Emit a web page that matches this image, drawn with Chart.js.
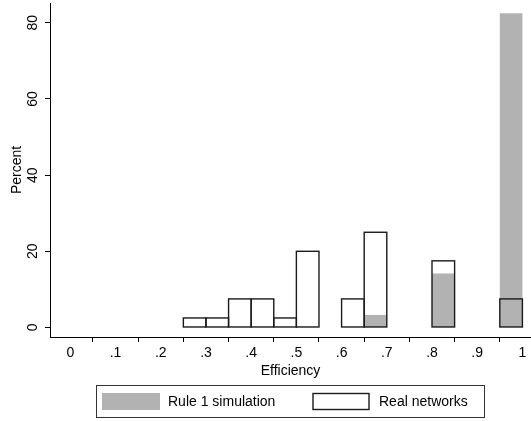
<!DOCTYPE html>
<html>
<head>
<meta charset="utf-8">
<script src="https://cdn.jsdelivr.net/npm/chart.js@4"></script>
<style>
  body { margin: 0; background: #fff; }
  canvas { display: block; }
</style>
</head>
<body>
<canvas id="histChart" width="531" height="421"></canvas>
<script>
// histogram bins, width .05, start of each bin
let binStarts = [0, .05, .1, .15, .2, .25, .3, .35, .4, .45, .5, .55, .6, .65, .7, .75, .8, .85, .9, .95]
let binWidth = .05
// percent per bin, null = empty bin
let simPercent = [null, null, null, null, null, null, null, null, null, null, null, null, null, 3.3, null, null, 14.2, null, null, 82.5]
let realPercent = [null, null, null, null, null, 2.5, 2.5, 7.5, 7.5, 2.5, 20, null, 7.5, 25, null, null, 17.5, null, null, 7.5]
let seriesNames = ["Rule 1 simulation", "Real networks"]

let xTickValues = [0, .1, .2, .3, .4, .5, .6, .7, .8, .9, 1]
let xTickLabels = ["0", ".1", ".2", ".3", ".4", ".5", ".6", ".7", ".8", ".9", "1"]
let yTickValues = [0, 20, 40, 60, 80]
let yTickLabels = ["0", "20", "40", "60", "80"]

let simColor = "#b2b2b2"
let lineColor = "#1a1a1a"
let outlineWidth = 1.4
let fontFamily = "'Liberation Sans', Arial, Helvetica, sans-serif"

Chart.defaults.font.family = fontFamily
Chart.defaults.font.size = 14
Chart.defaults.color = "#000"

function toPoints(values){
    return binStarts.map((start, idx) => {
        return { x: start + binWidth / 2, y: values[idx] }
    })
}

// outline bars: stroke centred on the bar edges so neighbours share one line
const outlineBars = {
    id: "outlineBars",
    afterDatasetsDraw(chart){
        let ctx = chart.ctx
        let meta = chart.getDatasetMeta(1)
        ctx.save()
        ctx.lineWidth = outlineWidth
        ctx.strokeStyle = lineColor
        meta.data.forEach((bar, idx) => {
            if (realPercent[idx] === null) return
            let p = bar.getProps(["x", "y", "base", "width"], true)
            ctx.strokeRect(p.x - p.width / 2, p.y, p.width, p.base - p.y)
        })
        ctx.restore()
    }
}

// legend drawn as a boxed key under the axis title
const boxedLegend = {
    id: "boxedLegend",
    afterDraw(chart){
        let ctx = chart.ctx
        let simDs = chart.data.datasets[0]
        let realDs = chart.data.datasets[1]
        ctx.save()
        ctx.lineWidth = 1
        ctx.strokeStyle = "#333"
        ctx.strokeRect(96.5, 385.5, 388, 32)

        ctx.fillStyle = simDs.backgroundColor
        ctx.fillRect(102, 393, 58, 17)

        ctx.lineWidth = outlineWidth
        ctx.strokeStyle = lineColor
        ctx.strokeRect(313, 393.5, 56, 16)

        ctx.fillStyle = "#000"
        ctx.font = "14px " + fontFamily
        ctx.textBaseline = "middle"
        ctx.textAlign = "left"
        ctx.fillText(simDs.label, 168, 402)
        ctx.fillText(realDs.label, 379, 402)
        ctx.restore()
    }
}

let histChart = new Chart(document.getElementById("histChart"),
{
    type: "bar",
    data: {
        datasets: [
            {
                label: seriesNames[0],
                data: toPoints(simPercent),
                backgroundColor: simColor,
                borderWidth: 0,
                barPercentage: 1,
                categoryPercentage: 1,
                grouped: false,
                inflateAmount: 0,
                order: 2
            },
            {
                label: seriesNames[1],
                data: toPoints(realPercent),
                backgroundColor: "rgba(0,0,0,0)",
                borderColor: lineColor,
                borderWidth: 0,
                barPercentage: 1,
                categoryPercentage: 1,
                grouped: false,
                inflateAmount: 0,
                order: 1
            }
        ]
    },
    options: {
        responsive: false,
        animation: false,
        layout: {
            padding: { top: 3, right: 0, bottom: 41, left: 0 }
        },
        plugins: {
            legend: { display: false },
            tooltip: { enabled: false }
        },
        scales: {
            x: {
                type: "linear",
                offset: false,
                min: -0.045,
                max: 1.019,
                afterBuildTicks: (scale) => {
                    scale.ticks = xTickValues.map(v => ({ value: v }))
                },
                afterFit: (scale) => {
                    scale.height = 43
                    scale.paddingLeft = 0
                    scale.paddingRight = 0
                },
                border: { display: true, color: "#000", width: 1 },
                grid: {
                    display: true,
                    drawOnChartArea: false,
                    drawTicks: true,
                    tickLength: 5,
                    color: "#000",
                    lineWidth: 1
                },
                ticks: {
                    padding: 3,
                    maxRotation: 0,
                    autoSkip: false,
                    callback: (value, idx) => xTickLabels[idx]
                },
                title: {
                    display: true,
                    text: "Efficiency",
                    padding: { top: 0, bottom: 0 }
                }
            },
            y: {
                type: "linear",
                min: -2.5,
                max: 85.2,
                afterBuildTicks: (scale) => {
                    scale.ticks = yTickValues.map(v => ({ value: v }))
                },
                afterFit: (scale) => {
                    scale.width = 50
                    scale.paddingTop = 0
                    scale.paddingBottom = 0
                },
                border: { display: true, color: "#000", width: 1 },
                grid: {
                    display: true,
                    drawOnChartArea: false,
                    drawTicks: true,
                    tickLength: 5,
                    color: "#000",
                    lineWidth: 1
                },
                ticks: {
                    padding: 4,
                    minRotation: 90,
                    maxRotation: 90,
                    crossAlign: "center",
                    autoSkip: false,
                    callback: (value, idx) => yTickLabels[idx]
                },
                title: {
                    display: true,
                    text: "Percent",
                    padding: { top: 8.5, bottom: 0 }
                }
            }
        }
    },
    plugins: [outlineBars, boxedLegend]
})
</script>
</body>
</html>
